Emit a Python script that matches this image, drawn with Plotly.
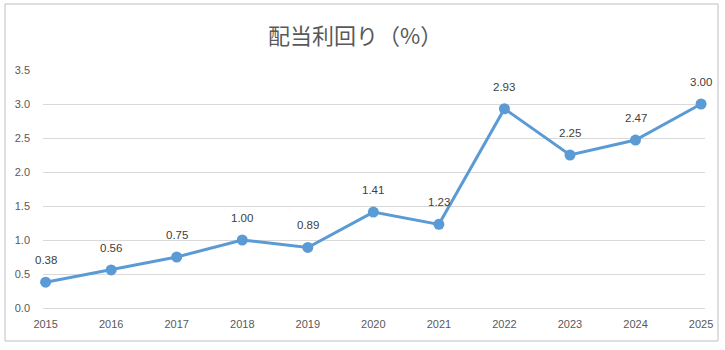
import plotly.graph_objects as go

years = ["2015", "2016", "2017", "2018", "2019", "2020", "2021", "2022", "2023", "2024", "2025"]
yields = [0.38, 0.56, 0.75, 1.00, 0.89, 1.41, 1.23, 2.93, 2.25, 2.47, 3.00]
y_ticks = [0.0, 0.5, 1.0, 1.5, 2.0, 2.5, 3.0, 3.5]

W, H = 725, 350
ml, mr, mt, mb = 43, 20, 70, 42
pw, ph = W - ml - mr, H - mt - mb

fig = go.Figure()
fig.add_trace(go.Scatter(
    x=list(range(len(years))), y=yields,
    mode="lines+markers",
    line=dict(color="#5B9BD5", width=3),
    marker=dict(color="#5B9BD5", size=11),
    cliponaxis=False,
    hoverinfo="skip",
))

# value labels above each point
for i, v in enumerate(yields):
    fig.add_annotation(x=i, y=v, xref="x", yref="y", text=f"{v:.2f}",
                       showarrow=False, yshift=22,
                       font=dict(family="Liberation Sans, Arial", size=11.5, color="#404040"))

# outer chart border
fig.add_shape(type="rect", xref="paper", yref="paper",
              x0=(5 - ml) / pw, x1=(718 - ml) / pw,
              y0=(H - mb - 341) / ph, y1=(H - mb - 4) / ph,
              line=dict(color="#BFBFBF", width=1), fillcolor="rgba(0,0,0,0)", layer="below")

fig.update_layout(
    width=W, height=H,
    margin=dict(l=ml, r=mr, t=mt, b=mb),
    paper_bgcolor="white", plot_bgcolor="white",
    showlegend=False,
    title=dict(text="配当利回り（%）", x=0.49, xanchor="center", y=1 - 36 / H, yanchor="middle",
               font=dict(family="Noto Sans CJK JP", size=22, color="#595959")),
    xaxis=dict(
        range=[-0.04, 10.06],
        tickmode="array", tickvals=list(range(len(years))), ticktext=years,
        showgrid=False, zeroline=False, showline=False, ticks="",
        ticklabelstandoff=8,
        tickfont=dict(family="Liberation Sans, Arial", size=11, color="#595959"),
        fixedrange=True,
    ),
    yaxis=dict(
        range=[0, 3.5],
        tickmode="array", tickvals=y_ticks, ticktext=[f"{v:.1f}" for v in y_ticks],
        showgrid=True, gridcolor="#D9D9D9", gridwidth=1,
        zeroline=True, zerolinecolor="#D9D9D9", zerolinewidth=1,
        showline=False, ticks="", ticklabelstandoff=12,
        tickfont=dict(family="Liberation Sans, Arial", size=11, color="#595959"),
        fixedrange=True,
    ),
)

fig.write_html("out.html")
